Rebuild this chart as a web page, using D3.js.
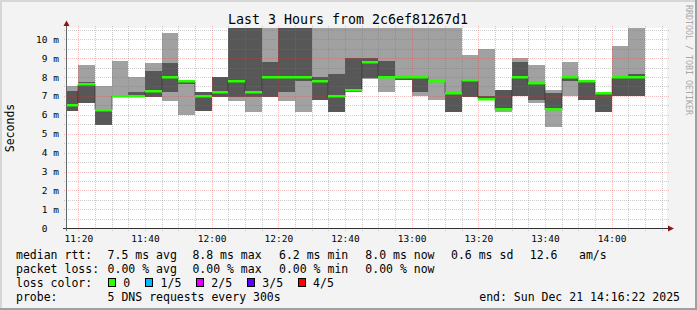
<!DOCTYPE html>
<html><head><meta charset="utf-8">
<script src="https://cdn.jsdelivr.net/npm/d3@7/dist/d3.min.js"></script>
<style>
html,body{margin:0;padding:0;background:#f3f3f3;}
svg{display:block;}
text{font-family:"DejaVu Sans Mono",monospace;white-space:pre;}
</style></head><body><svg id="chart" width="697" height="310"></svg>
<script>
// ---------- DATA ----------
const title = "Last 3 Hours from 2c6ef81267d1";
const yAxisTitle = "Seconds";
const rangeStart = "11:16:22";
const rangeEnd = "14:16:22";
const stepMinutes = 5;
// start time of each 5-minute step
const stepStarts = ["11:15","11:20","11:25","11:30","11:35","11:40","11:45","11:50","11:55",
  "12:00","12:05","12:10","12:15","12:20","12:25","12:30","12:35","12:40","12:45","12:50","12:55",
  "13:00","13:05","13:10","13:15","13:20","13:25","13:30","13:35","13:40","13:45","13:50","13:55",
  "14:00","14:05"];
// sorted pings (ms): ping1 = lowest ... ping5 = highest
const ping1 = [6.2,6.63,5.47,6.98,6.97,6.95,6.74,6.0,6.2,6.95,6.74,6.15,6.95,6.74,6.15,6.8,6.15,7.18,7.9,7.18,7.85,6.97,6.8,6.15,6.96,6.8,6.17,6.97,6.65,5.33,6.97,6.8,6.15,6.97,6.97];
const ping2 = [6.2,6.63,5.47,6.98,6.97,6.95,7.23,7.65,6.2,6.95,6.95,6.95,6.95,7.21,7.8,6.8,6.15,7.18,7.97,7.98,7.85,7.18,7.75,6.15,6.96,6.8,6.25,6.97,6.8,6.25,7.8,6.8,6.15,6.97,6.97];
const median = [6.5,7.65,6.25,7.0,7.0,7.25,8.0,7.8,7.0,7.22,7.8,7.2,8.0,8.0,8.0,7.8,7.0,7.32,8.8,8.0,8.0,8.0,7.8,7.16,7.83,6.85,6.3,8.0,7.67,6.3,8.0,7.8,7.16,8.0,8.0];
const ping4 = [7.27,7.71,6.3,7.05,7.21,8.29,8.75,7.85,7.21,8.02,12,12,8.8,12,12,8.02,8.16,9.0,9.0,8.85,8.02,8.02,7.82,7.2,7.87,7.0,7.32,8.8,7.72,7.16,8.02,7.82,7.18,8.02,8.16];
const ping5 = [7.53,8.64,7.5,8.82,8.02,8.75,10.34,7.85,7.21,8.02,12,12,12,12,12,12,12,12,12,12,12,12,12,12,9.17,9.49,7.32,9.01,8.64,7.32,8.8,7.82,7.18,9.65,12];
const yTickValues = [0,1,2,3,4,5,6,7,8,9,10];
const yTickLabels = ["0  ","1 m","2 m","3 m","4 m","5 m","6 m","7 m","8 m","9 m","10 m"];
const yMax = 10.6;
const medianLegend = ["median rtt:","7.5 ms avg","8.8 ms max","6.2 ms min","8.0 ms now","0.6 ms sd","12.6","am/s"];
const lossLegend = ["packet loss:","0.00 % avg","0.00 % max","0.00 % min","0.00 % now"];
const lossColorTitle = "loss color:";
const lossColorLabels = ["0","1/5","2/5","3/5","4/5"];
const lossColors = ["#26ff00","#00b8ff","#dd00ff","#5e00ff","#ff0000"];
const probeLegend = ["probe:","5 DNS requests every 300s"];
const endLabel = "end: Sun Dec 21 14:16:22 2025";
const watermark = "RRDTOOL / TOBI OETIKER";

// ---------- HELPERS ----------
function t(str){const p=str.split(":").map(Number);return new Date(2025,11,21,p[0],p[1],p[2]||0);}

const svg = d3.select("#chart");
const W=697,H=310;
const P = {left:66.2,right:666.2,top:27.8,bottom:228.3};

const x = d3.scaleTime().domain([t(rangeStart), t(rangeEnd)]).range([P.left, P.right]);
const y = d3.scaleLinear().domain([0, yMax]).range([P.bottom, P.top]);

// background + shade frame
svg.append("rect").attr("width",W).attr("height",H).attr("fill","#f3f3f3");
svg.append("path").attr("d","M0,0H697V2H2V310H0Z").attr("fill","#d6d6d6");
svg.append("path").attr("d","M697,0V310H0V308H695V0Z").attr("fill","#a0a0a0");

// canvas
svg.append("rect").attr("x",66).attr("y",28).attr("width",601).attr("height",200.5).attr("fill","#fff");

svg.append("clipPath").attr("id","clip").append("rect")
  .attr("x",66).attr("y",28).attr("width",601).attr("height",200.5);

const data = stepStarts.map((s,i)=>{
  const t0=t(s), t1=new Date(t0.getTime()+stepMinutes*60000);
  return {t0,t1,p1:ping1[i],p2:ping2[i],med:median[i],p4:ping4[i],p5:ping5[i]};
});
const bx0 = d=>Math.round(Math.max(x(d.t0),P.left));
const bx1 = d=>Math.round(x(d.t1));

const g = svg.append("g").attr("clip-path","url(#clip)");
// outer smoke
g.selectAll("rect.outer").data(data).join("rect").attr("class","outer")
  .attr("x",bx0).attr("width",d=>bx1(d)-bx0(d))
  .attr("y",d=>Math.round(y(d.p5))).attr("height",d=>Math.round(y(d.p1))-Math.round(y(d.p5)))
  .attr("fill","#a1a1a1").attr("shape-rendering","crispEdges");
// inner smoke
g.selectAll("rect.inner").data(data).join("rect").attr("class","inner")
  .attr("x",bx0).attr("width",d=>bx1(d)-bx0(d))
  .attr("y",d=>Math.round(y(d.p4))).attr("height",d=>Math.round(y(d.p2))-Math.round(y(d.p4)))
  .attr("fill","#575757").attr("shape-rendering","crispEdges");

// grid (drawn over, semi transparent)
const grid = svg.append("g");
const minorY = d3.range(0, yMax, 0.5).filter(v=>v%1!==0);
const majorY = yTickValues;
const hy = v=>Math.round(y(v))+0.5;
const minorCol = "rgba(120,120,120,0.38)", majorCol = "rgba(222,60,60,0.32)";
grid.selectAll("line.hmin").data(minorY).join("line")
  .attr("x1",64).attr("x2",669).attr("y1",hy).attr("y2",hy)
  .attr("stroke",minorCol).attr("stroke-dasharray","1,1");
grid.selectAll("line.hmaj").data(majorY.filter(v=>v>0)).join("line")
  .attr("x1",64).attr("x2",669).attr("y1",hy).attr("y2",hy)
  .attr("stroke",majorCol).attr("stroke-dasharray","1,1");
const minorX = d3.timeMinute.every(5).range(t(rangeStart), t(rangeEnd)).filter(d=>d.getMinutes()%20!==0);
const majorX = d3.timeMinute.every(20).range(t(rangeStart), t(rangeEnd));
const vx = d=>Math.round(x(d))+0.5;
grid.selectAll("line.vmin").data(minorX).join("line")
  .attr("x1",vx).attr("x2",vx).attr("y1",26).attr("y2",231)
  .attr("stroke",minorCol).attr("stroke-dasharray","1,1");
grid.selectAll("line.vmaj").data(majorX).join("line")
  .attr("x1",vx).attr("x2",vx).attr("y1",26).attr("y2",231)
  .attr("stroke",majorCol).attr("stroke-dasharray","1,1");

// median step line (dotted) and green median band
const g2 = svg.append("g").attr("clip-path","url(#clip)");
let dPath = "";
data.forEach((d,i)=>{
  const ym = Math.round(y(d.med))+0.5;
  dPath += (i===0?"M"+bx0(d)+","+ym:"V"+ym) + "H"+bx1(d);
});
g2.append("path").attr("d",dPath).attr("fill","none").attr("stroke","#202020")
  .attr("stroke-width",1).attr("stroke-dasharray","1,1");
g2.selectAll("rect.med").data(data).join("rect").attr("class","med")
  .attr("x",bx0).attr("width",d=>bx1(d)-bx0(d))
  .attr("y",d=>Math.round(y(d.med))-1).attr("height",2.5)
  .attr("fill",lossColors[0]);

// axes
const xAxis = d3.axisBottom(x).tickValues(majorX).tickFormat(d3.timeFormat("%H:%M")).tickSize(0).tickPadding(7);
const xg = svg.append("g").attr("transform","translate(0,228.5)").call(xAxis);
xg.select(".domain").remove();
xg.selectAll("text").attr("font-family","DejaVu Sans Mono").attr("font-size","9.5px").attr("fill","#000");

const yAxis = d3.axisLeft(y).tickValues(yTickValues).tickFormat((d,i)=>yTickLabels[i]).tickSize(0).tickPadding(7);
const yg = svg.append("g").attr("transform","translate(66,0)").call(yAxis);
yg.select(".domain").remove();
yg.selectAll("text").attr("font-family","DejaVu Sans Mono").attr("font-size","9.5px").attr("fill","#000");

svg.append("line").attr("x1",63).attr("x2",669).attr("y1",228.5).attr("y2",228.5).attr("stroke","#303030");
svg.append("line").attr("x1",66.5).attr("x2",66.5).attr("y1",231).attr("y2",26).attr("stroke","#666");
svg.append("path").attr("d","M668,225.5L674,228.5L668,231.5Z").attr("fill","#8f1414");
svg.append("path").attr("d","M63.5,26L66.5,20.5L69.5,26Z").attr("fill","#8f1414");

// title, y title, watermark
svg.append("text").attr("x",348).attr("y",24).attr("text-anchor","middle")
  .attr("font-size","13.3px").attr("fill","#000").text(title);
svg.append("text").attr("transform","translate(14,128) rotate(-90)").attr("text-anchor","middle")
  .attr("font-size","11.5px").attr("fill","#000").text(yAxisTitle);
svg.append("text").attr("transform","translate(685.5,5) rotate(90)").attr("text-anchor","start")
  .attr("font-size","8.3px").attr("fill","#a8a8a8").text(watermark);

// legend
const lg = svg.append("g").attr("font-size","11.5px").attr("fill","#000");
const row1X = [16,107.6,192.4,279,365.3,451,529.8,579];
medianLegend.forEach((s,i)=>lg.append("text").attr("x",row1X[i]).attr("y",259).text(s));
const row2X = [16,107.6,192.4,279,365.3];
lossLegend.forEach((s,i)=>lg.append("text").attr("x",row2X[i]).attr("y",273).text(s));
lg.append("text").attr("x",16).attr("y",287).text(lossColorTitle);
const boxX = [108,145.3,196,247,297.8];
lossColorLabels.forEach((s,i)=>{
  lg.append("rect").attr("x",Math.round(boxX[i])+0.5).attr("y",278.5).attr("width",7).attr("height",8)
    .attr("fill",lossColors[i]).attr("stroke","#000");
  lg.append("text").attr("x",boxX[i]+15.3).attr("y",287).text(s);
});
lg.append("text").attr("x",16).attr("y",301).text(probeLegend[0]);
lg.append("text").attr("x",107.6).attr("y",301).text(probeLegend[1]);
lg.append("text").attr("x",680).attr("y",301).attr("text-anchor","end").text(endLabel);
</script></body></html>
